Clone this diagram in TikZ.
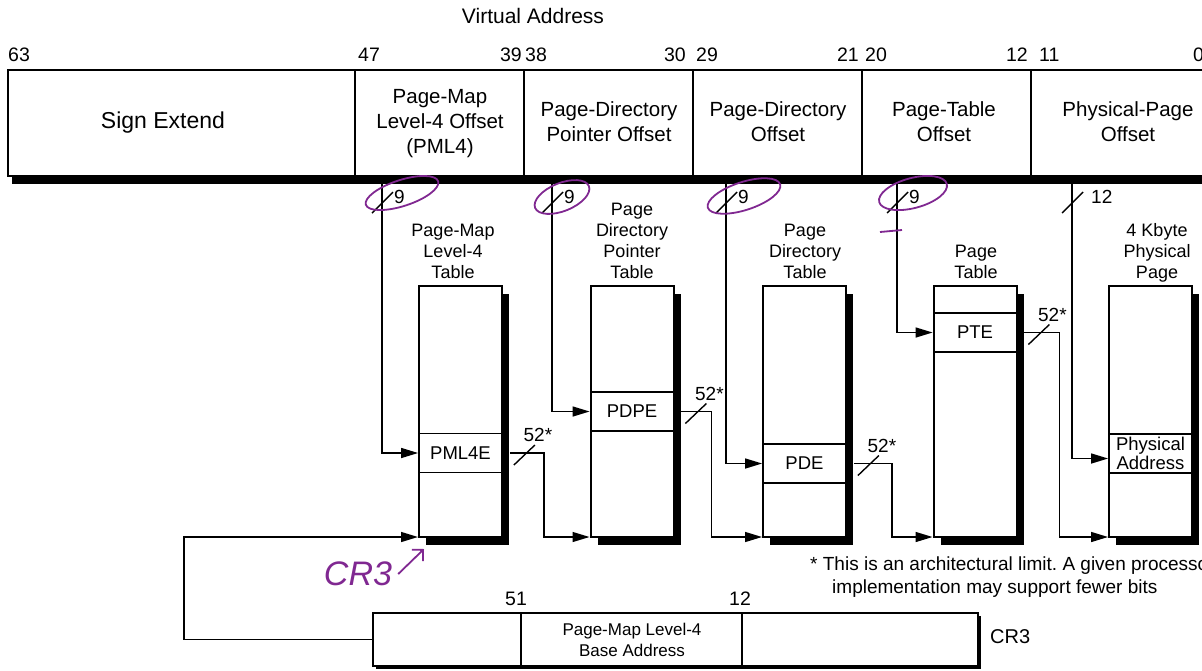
\documentclass[tikz,border=0pt]{standalone}
\usepackage{fontspec}
\setmainfont{Liberation Sans}
\usepackage{xcolor}
\usetikzlibrary{arrows.meta,shadows}
\definecolor{annot}{RGB}{128,40,145}
\frenchspacing

\begin{document}
\begin{tikzpicture}[x=1pt, y=-1pt, >={Triangle[length=17pt,width=10pt]},
  field/.style={align=center, inner sep=0pt, font=\fontsize{20.5}{25}\selectfont},
  bitno/.style={inner sep=0pt, font=\fontsize{19.5}{22}\selectfont},
  tabname/.style={align=center, inner sep=0pt, font=\fontsize{18}{21}\selectfont},
  pgtab/.style={draw, line width=2pt, fill=white, minimum width=83pt, minimum height=251pt, inner sep=0pt,
    drop shadow={shadow xshift=7pt, shadow yshift=-8pt, fill=black, opacity=1}},
  entry/.style={draw, line width=1.8pt, minimum width=83pt, minimum height=39pt, inner sep=0pt, font=\fontsize{18.5}{20}\selectfont},
  wire/.style={line width=1.4pt},
  busmark/.style={line width=1.4pt},
  small/.style={inner sep=1pt, font=\fontsize{19}{22}\selectfont},
  note/.style={draw=annot, line width=1.8pt}
]
\useasboundingbox (0,0) rectangle (1202,670);

% virtual address fields
\node[font=\fontsize{21}{24}\selectfont] (va) at (533,16) {Virtual Address};
\node[draw, line width=2pt, fill=white, minimum width=1198pt, minimum height=106pt, inner sep=0pt,
  drop shadow={shadow xshift=4pt, shadow yshift=-8pt, fill=black, opacity=1}] (vabox) at (607,123) {};
\foreach \x in {355,524,693,862,1031}
  \draw[line width=1.6pt] (\x,70) -- (\x,176);

\foreach \n/\x/\a in {63/8/west, 47/358/west, 39/522/east, 38/525/west, 30/686/east,
    29/696/west, 21/859/east, 20/865/west, 12/1028/east, 11/1039/west, 0/1193/west}
  \node[bitno, anchor=south \a] (bit\n) at (\x,62) {\n};

\node[field, font=\fontsize{23}{27}\selectfont] (sign) at (163,123) {Sign Extend};
\node[field] (pml4off) at (440,123.5) {Page-Map\\Level-4 Offset\\(PML4)};
\node[field] (pdpoff) at (609,121.5) {Page-Directory\\Pointer Offset};
\node[field] (pdoff) at (778,121.5) {Page-Directory\\Offset};
\node[field] (ptoff) at (944,121.5) {Page-Table\\Offset};
\node[field] (ppoff) at (1128,121.5) {Physical-Page\\Offset};

\coordinate (tap1) at (382,184);
\coordinate (tap2) at (552,184);
\coordinate (tap3) at (726,184);
\coordinate (tap4) at (897,184);
\coordinate (tap5) at (1072,184);

% tables
\node[pgtab] (pml4) at (460.5,411.5) {};
\node[pgtab] (pdp) at (632,411.5) {};
\node[pgtab] (pd) at (804.5,411.5) {};
\node[pgtab] (pt) at (975,411.5) {};
\node[pgtab] (phys) at (1150.5,411.5) {};

\node[tabname] (pml4name) at (453,251) {Page-Map\\Level-4\\Table};
\node[tabname] (pdpname) at (632,240.5) {Page\\Directory\\Pointer\\Table};
\node[tabname] (pdname) at (805,251) {Page\\Directory\\Table};
\node[tabname] (ptname) at (976,262) {Page\\Table};
\node[tabname] (physname) at (1157,253) {4 Kbyte\\Physical\\Page};

\node[entry] (pml4e) at (460.5,453) {PML4E};
\node[entry] (pdpe) at (632,411.5) {PDPE};
\node[entry] (pde) at (804.5,463.5) {PDE};
\node[entry] (pte) at (975,332.5) {PTE};
\node[entry, align=center, font=\fontsize{18.5}{17}\selectfont] (paddr) at (1150.5,453.5) {Physical\\Address};

% index bits
\foreach \t/\n/\d in {tap1/9/11, tap2/9/11, tap3/9/11, tap4/9/11, tap5/12/18} {
  \draw[busmark] ([shift={(-10,29)}]\t) -- ++(21,-21);
  \node[small, anchor=west] (w\t) at ([shift={(\d,13)}]\t) {\n};
}
\draw[wire, ->] (tap1) |- (pml4e.west);
\draw[wire, ->] (tap2) |- (pdpe.west);
\draw[wire, ->] (tap3) |- (pde.west);
\draw[wire, ->] (tap4) |- (pte.west);
\draw[wire, ->] (tap5) |- ([yshift=-5pt]paddr.west);

% base addresses
\draw[wire, ->] ([xshift=7pt]pml4e.east) -- ++(34,0) |- ([yshift=1pt]pdp.south west);
\draw[wire, ->] ([xshift=7pt]pdpe.east) -- ++(30,0) |- ([yshift=1pt]pd.south west);
\draw[wire, ->] ([xshift=7pt]pde.east) -- ++(38,0) |- ([yshift=1pt]pt.south west);
\draw[wire, ->] ([xshift=7pt]pte.east) -- ++(35,0) |- ([yshift=1pt]phys.south west);
\foreach \e in {pml4e,pdpe,pde,pte} {
  \draw[busmark] ([shift={(11,12)}]\e.east) -- ++(21,-20);
  \node[small, anchor=south] (s\e) at ([shift={(35,-10)}]\e.east) {52*};
}

% CR3
\node[draw, line width=1.8pt, fill=white, minimum width=605pt, minimum height=53pt, inner sep=0pt,
  drop shadow={shadow xshift=3pt, shadow yshift=-3pt, fill=black, opacity=1}] (cr3) at (675.5,639.5) {};
\draw[line width=1.6pt] (521,613) -- (521,666);
\draw[line width=1.6pt] (742,613) -- (742,666);
\node[tabname, font=\fontsize{17}{21}\selectfont] (pmlbase) at (632,640) {Page-Map Level-4\\Base Address};
\node[bitno, anchor=south] (cr51) at (516,606) {51};
\node[bitno, anchor=south] (cr12) at (740,606) {12};
\node[font=\fontsize{20}{24}\selectfont, anchor=west, inner sep=0pt] (cr3name) at (990,637) {CR3};
\draw[wire, ->] (cr3.west) -- ++(-188,0) |- ([yshift=1pt]pml4.south west);

\node[anchor=north west, align=left, inner sep=0pt, font=\fontsize{19}{23}\selectfont] (foot) at (810,557)
  {* This is an architectural limit. A given processor\\\hspace*{22pt}implementation may support fewer bits};

% handwritten notes
\draw[note] (402,193) ellipse [x radius=38pt, y radius=13pt, rotate=18];
\draw[note] (562,197) ellipse [x radius=29pt, y radius=14pt, rotate=22];
\draw[note] (744,196) ellipse [x radius=38pt, y radius=14pt, rotate=18];
\draw[note] (913,193) ellipse [x radius=35pt, y radius=15pt, rotate=15];
\draw[note] (880,232) -- (902,230);
\node[text=annot, inner sep=0pt, font=\fontsize{34}{36}\selectfont\itshape] (cr3note) at (358,574) {CR3};
\coordinate (cr3tip) at (424,549);
\draw[note, -{Straight Barb[length=8pt]}] ([xshift=6pt]cr3note.east) -- (cr3tip);
\end{tikzpicture}
\end{document}
